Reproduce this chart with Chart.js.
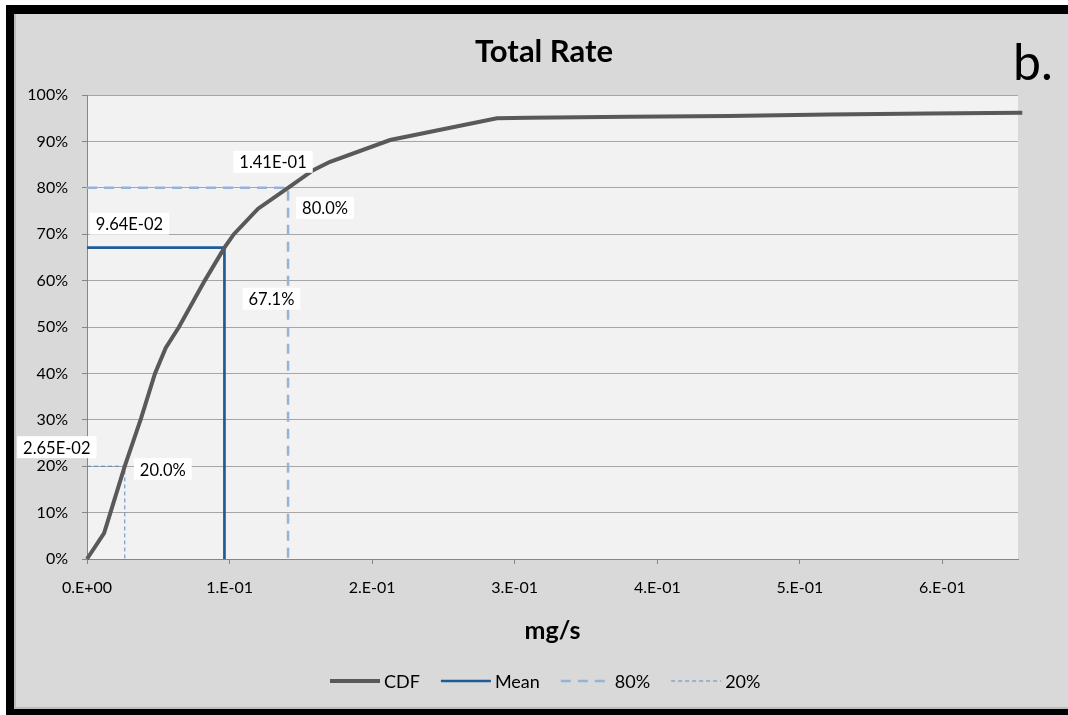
<!DOCTYPE html>
<html><head><meta charset="utf-8">
<script src="https://cdn.jsdelivr.net/npm/chart.js@4/dist/chart.umd.min.js"></script>
<style>
html,body{margin:0;padding:0;background:#fff;width:1068px;height:715px;overflow:hidden}
#frame{position:absolute;left:6px;top:5px;width:1054px;height:695px;background:#d9d9d9;border-left:8px solid #000;border-top:9px solid #000;border-bottom:6px solid #000;box-shadow:inset 2px -2px 0 #bcbcbc}
#c{position:absolute;left:0;top:0}
</style></head><body>
<div id="frame"></div>
<canvas id="c" width="1068" height="715"></canvas>
<script>
// ---- data ----
const cdfX = [0, 0.012, 0.0265, 0.0379, 0.0477, 0.0552, 0.0645, 0.0826, 0.0964, 0.103, 0.12, 0.141, 0.1586, 0.1705, 0.2126, 0.2875, 0.31, 0.38, 0.45, 0.52, 0.59, 0.656];
const cdfY = [0, 5.6, 20.0, 30.3, 40.0, 45.5, 50.0, 60.0, 67.1, 70.0, 75.5, 80.0, 83.8, 85.6, 90.3, 95.0, 95.1, 95.3, 95.5, 95.8, 96.0, 96.2];
const meanPoint = [0.0964, 67.1];
const p80Point = [0.141, 80.0];
const p20Point = [0.0265, 20.0];
const seriesNames = ['CDF', 'Mean', '80%', '20%'];
const xTickValues = [0, 0.1, 0.2, 0.3, 0.4, 0.5, 0.6];
const xTickLabels = ['0.E+00', '1.E-01', '2.E-01', '3.E-01', '4.E-01', '5.E-01', '6.E-01'];
const yTickValues = [0, 10, 20, 30, 40, 50, 60, 70, 80, 90, 100];
const yTickLabels = ['0%', '10%', '20%', '30%', '40%', '50%', '60%', '70%', '80%', '90%', '100%'];
const chartTitle = 'Total Rate';
const xAxisTitle = 'mg/s';
const panelLetter = 'b.';

// ---- helpers ----
function sci(v) {
  const [m, e] = v.toExponential(2).split('e');
  const n = parseInt(e, 10);
  return m + 'E' + (n < 0 ? '-' : '+') + String(Math.abs(n)).padStart(2, '0');
}
function pct(v) { return v.toFixed(1) + '%'; }
function elbow(p) { return [{x: 0, y: p[1]}, {x: p[0], y: p[1]}, {x: p[0], y: 0}]; }

const FONT = 'Lato, "Open Sans", sans-serif';

const datasets = [
  {label: seriesNames[0], data: cdfX.map((x, i) => ({x, y: cdfY[i]})), borderColor: '#595959', borderWidth: 4, clip: false},
  {label: seriesNames[1], data: elbow(meanPoint), borderColor: '#1f5b96', borderWidth: 2.7},
  {label: seriesNames[2], data: elbow(p80Point), borderColor: '#95b3d7', borderWidth: 2.5, borderDash: [10, 7]},
  {label: seriesNames[3], data: elbow(p20Point), borderColor: '#5a8ac6', borderWidth: 1, borderDash: [4, 3]}
].map(d => Object.assign({showLine: true, pointRadius: 0, tension: 0, fill: false, borderJoinStyle: 'miter'}, d));

// annotation boxes: [point, text, dx, dy]
const annots = [
  [meanPoint, sci(meanPoint[0]), -95, -24],
  [meanPoint, pct(meanPoint[1]), 47, 51],
  [p80Point, sci(p80Point[0]), -15, -26],
  [p80Point, pct(p80Point[1]), 37, 20],
  [p20Point, sci(p20Point[0]), -68, -19],
  [p20Point, pct(p20Point[1]), 38, 3]
];

const decor = {
  id: 'decor',
  beforeDraw(chart) {
    const {ctx, chartArea: a} = chart;
    ctx.save();
    ctx.fillStyle = '#f2f2f2';
    ctx.fillRect(a.left, a.top, a.right - a.left, a.bottom - a.top);
    ctx.restore();
  },
  afterDraw(chart) {
    const {ctx, scales: {x, y}} = chart;
    ctx.save();
    // annotation labels
    ctx.font = '16.5px ' + FONT;
    ctx.textAlign = 'center';
    ctx.textBaseline = 'middle';
    annots.forEach(([p, t, dx, dy]) => {
      const cx = x.getPixelForValue(p[0]) + dx;
      const cy = y.getPixelForValue(p[1]) + dy;
      const w = ctx.measureText(t).width + 12;
      ctx.fillStyle = '#ffffff';
      ctx.fillRect(cx - w / 2, cy - 11, w, 22);
      ctx.fillStyle = '#000';
      ctx.fillText(t, cx, cy + 1);
    });
    // title
    ctx.font = 'bold 31px ' + FONT;
    ctx.fillStyle = '#000';
    ctx.fillText(chartTitle, 544, 52);
    // panel letter
    ctx.font = '50px ' + FONT;
    ctx.textAlign = 'left';
    ctx.textBaseline = 'alphabetic';
    ctx.fillText(panelLetter, 1013, 80);
    // x axis title
    ctx.font = 'bold 25px ' + FONT;
    ctx.textAlign = 'center';
    ctx.textBaseline = 'middle';
    ctx.fillText(xAxisTitle, (x.left + x.right) / 2, 631);
    // legend
    ctx.font = '18px ' + FONT;
    ctx.textAlign = 'left';
    let lx = 330;
    const ly = 681;
    chart.data.datasets.forEach(ds => {
      ctx.save();
      ctx.strokeStyle = ds.borderColor;
      ctx.lineWidth = ds.borderWidth;
      ctx.setLineDash(ds.borderDash || []);
      ctx.beginPath();
      ctx.moveTo(lx, ly);
      ctx.lineTo(lx + 50, ly);
      ctx.stroke();
      ctx.restore();
      ctx.fillStyle = '#000';
      ctx.fillText(ds.label, lx + 54, ly + 1);
      lx += 54 + ctx.measureText(ds.label).width + 21;
    });
    ctx.restore();
  }
};

new Chart(document.getElementById('c'), {
  type: 'scatter',
  data: {datasets},
  plugins: [decor],
  options: {
    responsive: false,
    animation: false,
    devicePixelRatio: 1,
    layout: {padding: {top: 95, right: 50, left: 0, bottom: 0}},
    plugins: {legend: {display: false}, title: {display: false}, tooltip: {enabled: false}},
    scales: {
      x: {
        type: 'linear', position: 'bottom', min: 0, max: 0.653,
        afterBuildTicks: s => { s.ticks = xTickValues.map(v => ({value: v})); },
        afterFit: s => { s.height = 156; },
        ticks: {callback: (v, i) => xTickLabels[i], font: {family: FONT, size: 16}, color: '#000', padding: 14, maxRotation: 0, autoSkip: false},
        grid: {drawOnChartArea: false, drawTicks: true, tickLength: 5, tickColor: '#868686'},
        border: {color: '#868686', width: 1}
      },
      y: {
        type: 'linear', min: 0, max: 100,
        afterBuildTicks: s => { s.ticks = yTickValues.map(v => ({value: v})); },
        afterFit: s => { s.width = 87; },
        ticks: {callback: (v, i) => yTickLabels[i], font: {family: FONT, size: 16}, color: '#000', padding: 14, autoSkip: false},
        grid: {color: '#a6a6a6', tickLength: 5, tickColor: '#868686'},
        border: {color: '#868686', width: 1}
      }
    }
  }
});
</script>
</body></html>
